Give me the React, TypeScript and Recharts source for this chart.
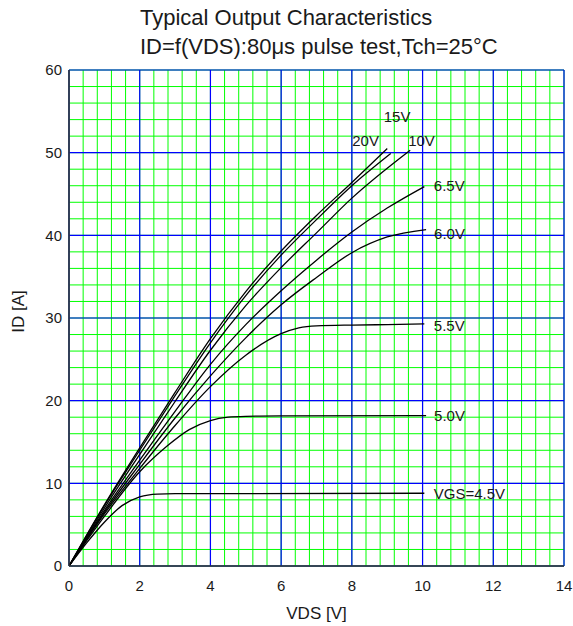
import { LineChart, Line, XAxis, YAxis, CartesianGrid, Label } from 'recharts';

// tick values
const xMajorTicks = [0, 2, 4, 6, 8, 10, 12, 14];
const yMajorTicks = [0, 10, 20, 30, 40, 50, 60];
const xMinorTicks = Array.from({ length: 36 }, (_, i) => Math.round(i * 4) / 10);
const yMinorTicks = Array.from({ length: 31 }, (_, i) => i * 2);

// ID [A] versus VDS [V], one list per gate voltage
const vgs20 = [[0, 0], [1, 7.4], [2, 14.3], [3, 21.0], [4, 27.5], [5, 33.2], [6, 38.1], [7, 42.4], [8, 46.4], [9.0, 50.5]];
const vgs15 = [[0, 0], [1, 7.3], [2, 14.0], [3, 20.6], [4, 27.0], [5, 32.7], [6, 37.6], [7, 41.9], [8, 46.0], [9.1, 49.9]];
const vgs10 = [[0, 0], [1, 7.0], [2, 13.5], [3, 19.9], [4, 26.1], [5, 31.5], [6, 36.1], [7, 40.3], [8, 44.5], [9.65, 50.3]];
const vgs65 = [[0, 0], [1, 6.7], [2, 12.8], [3, 18.7], [4, 24.4], [5, 29.2], [6, 33.3], [7, 37.0], [8, 40.4], [9, 43.3], [10.05, 45.9]];
const vgs60 = [[0, 0], [1, 6.5], [2, 12.3], [3, 17.9], [4, 23.0], [5, 27.6], [6, 31.6], [7, 34.9], [8, 37.9], [9, 39.8], [10.1, 40.7]];
const vgs55 = [[0, 0], [1, 6.3], [2, 11.8], [3, 17.0], [4, 21.7], [5, 25.5], [6, 28.1], [6.5, 28.8], [7, 29.05], [8, 29.15], [9, 29.2], [10.05, 29.3]];
const vgs50 = [[0, 0], [1, 6.0], [2, 11.4], [2.8, 14.6], [3.4, 16.5], [4, 17.6], [4.5, 18.0], [5, 18.1], [6, 18.15], [10.1, 18.2]];
const vgs45 = [[0, 0], [0.5, 2.8], [1, 5.3], [1.5, 7.3], [2, 8.35], [2.5, 8.7], [3, 8.75], [10.05, 8.8]];

const curveNames = ['20V', '15V', '10V', '6.5V', '6.0V', '5.5V', '5.0V', 'VGS=4.5V'];
const curveValues = [vgs20, vgs15, vgs10, vgs65, vgs60, vgs55, vgs50, vgs45];

// where each curve's name sits relative to its last point (px)
const labelOffsets = [
  [-35, -3], [-7, -31], [-2, -4.5], [9.5, 4], [8, 9.5], [9.5, 7], [8, 5.5], [9.5, 6]
];

const FONT = '"Liberation Sans", Arial, sans-serif';
const TEXT = '#1a1a1a';

const toPoints = (pts: number[][]) => pts.map(([vds, id]) => ({ vds, id }));

// grid lines placed through the axis scale
const applyScale = (axis: any, v: number) => {
  const s = axis && axis.scale;
  if (typeof s === 'function') return s(v);
  if (s && typeof s.map === 'function') return s.map(v);
  return NaN;
};
const verticalAt = (values: number[]) => (args: any) =>
  values.map((v) => {
    const px = applyScale(args.xAxis, v);
    return Number.isFinite(px) ? px : args.offset.left + (args.offset.width * v) / 14;
  });
const horizontalAt = (values: number[]) => (args: any) =>
  values.map((v) => {
    const px = applyScale(args.yAxis, v);
    return Number.isFinite(px) ? px : args.offset.top + args.offset.height * (1 - v / 60);
  });

const endLabel = (text: string, dx: number, dy: number, last: number) => (props: any) => {
  if (props.index !== last) return <g key={props.index} />;
  return (
    <text key={props.index} x={props.x + dx} y={props.y + dy} fontSize={15} fontFamily={FONT} fill={TEXT}>
      {text}
    </text>
  );
};

const App = () => (
  <div style={{ position: 'absolute', left: 0, top: 0, fontFamily: FONT }}>
    <LineChart width={573} height={626} margin={{ top: 70, right: 9, bottom: 30, left: 0 }}>
      <text x={140} y={25} fontSize={22} fontFamily={FONT} fill={TEXT}>
        Typical Output Characteristics
      </text>
      <text x={140} y={54} fontSize={22} fontFamily={FONT} fill={TEXT}>
        ID=f(VDS):80μs pulse test,Tch=25°C
      </text>

      <CartesianGrid
        horizontalCoordinatesGenerator={horizontalAt(yMinorTicks)}
        verticalCoordinatesGenerator={verticalAt(xMinorTicks)}
        stroke="#00ff00"
        strokeWidth={1}
      />
      <CartesianGrid
        horizontalCoordinatesGenerator={horizontalAt(yMajorTicks)}
        verticalCoordinatesGenerator={verticalAt(xMajorTicks)}
        stroke="#0000ff"
        strokeWidth={1.2}
      />

      <XAxis
        dataKey="vds"
        type="number"
        domain={[0, 14]}
        ticks={xMajorTicks}
        allowDataOverflow
        height={30}
        tickLine={false}
        tickSize={0}
        tickMargin={14}
        axisLine={{ stroke: '#333', strokeWidth: 1.5 }}
        tick={{ fill: TEXT, fontSize: 15, fontFamily: FONT }}
      >
        <Label value="VDS [V]" position="bottom" offset={11} fill={TEXT} fontSize={17} fontFamily={FONT} />
      </XAxis>
      <XAxis
        xAxisId="top"
        orientation="top"
        mirror
        type="number"
        domain={[0, 14]}
        ticks={xMinorTicks}
        allowDataOverflow
        height={0}
        tick={false}
        tickSize={4}
        tickLine={{ stroke: '#222' }}
        axisLine={{ stroke: '#222', strokeWidth: 1.5 }}
      />
      <XAxis
        xAxisId="bottomIn"
        orientation="bottom"
        mirror
        type="number"
        domain={[0, 14]}
        ticks={xMinorTicks}
        allowDataOverflow
        height={0}
        tick={false}
        tickSize={4}
        tickLine={{ stroke: '#222' }}
        axisLine={false}
      />

      <YAxis
        type="number"
        domain={[0, 60]}
        ticks={yMajorTicks}
        allowDataOverflow
        width={69}
        tickLine={false}
        tickSize={0}
        tickMargin={7}
        axisLine={{ stroke: '#333', strokeWidth: 1.5 }}
        tick={{ fill: TEXT, fontSize: 15, fontFamily: FONT }}
      >
        <Label
          content={() => (
            <text transform="translate(23.5 311.5) rotate(-90)" textAnchor="middle" fontSize={17} fontFamily={FONT} fill={TEXT}>
              ID [A]
            </text>
          )}
        />
      </YAxis>
      <YAxis
        yAxisId="leftIn"
        orientation="left"
        mirror
        type="number"
        domain={[0, 60]}
        ticks={yMinorTicks}
        allowDataOverflow
        width={0}
        tick={false}
        tickSize={4}
        tickLine={{ stroke: '#222' }}
        axisLine={false}
      />
      <YAxis
        yAxisId="rightIn"
        orientation="right"
        mirror
        type="number"
        domain={[0, 60]}
        ticks={yMinorTicks}
        allowDataOverflow
        width={0}
        tick={false}
        tickSize={4}
        tickLine={{ stroke: '#222' }}
        axisLine={{ stroke: '#222', strokeWidth: 1.5 }}
      />

      {curveValues.map((pts, i) => (
        <Line
          key={curveNames[i]}
          data={toPoints(pts)}
          dataKey="id"
          type="monotone"
          stroke="#000"
          strokeWidth={1.3}
          dot={false}
          activeDot={false}
          isAnimationActive={false}
          label={endLabel(curveNames[i], labelOffsets[i][0], labelOffsets[i][1], pts.length - 1)}
        />
      ))}
    </LineChart>
  </div>
);

export default App;
